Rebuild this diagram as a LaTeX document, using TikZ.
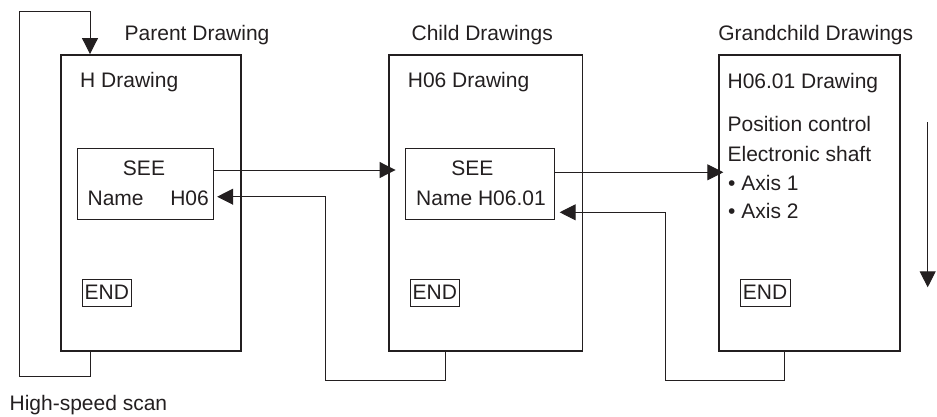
\documentclass[tikz,border=0pt]{standalone}
\usepackage{fontspec}
\setmainfont{Liberation Sans}
\usetikzlibrary{arrows.meta,calc}
\definecolor{ink}{HTML}{231F20}
\tikzset{
  drawbox/.style={draw=ink,line width=1.9pt,rectangle,inner sep=0pt},
  seebox/.style={draw=ink,line width=0.9pt,rectangle,inner sep=0pt},
  endbox/.style={draw=ink,line width=0.9pt,rectangle,inner sep=0pt,minimum width=49.7pt,minimum height=26.7pt,text=ink},
  lbl/.style={inner sep=0pt,text=ink,anchor=base west},
  conn/.style={draw=ink,line width=1pt},
  arr/.style={conn,-{Triangle[length=16pt,width=16pt]}},
}
\begin{document}
\begin{tikzpicture}[x=1pt,y=-1pt,font=\fontsize{21pt}{25pt}\selectfont]
\useasboundingbox (0,0) rectangle (937,416);
% drawing boxes
\node[drawbox,minimum width=180.3pt,minimum height=295.7pt] (boxH) at (150.85,202.85) {};
\node[drawbox,minimum width=193.5pt,minimum height=295.7pt] (boxC) at (485.75,202.85) {};
\node[drawbox,minimum width=181pt,minimum height=295.7pt] (boxG) at (809.8,202.85) {};
% SEE boxes
\node[seebox,minimum width=136pt,minimum height=70.7pt] (seeH) at (145.7,183.65) {};
\node[seebox,minimum width=149pt,minimum height=70.7pt] (seeC) at (480.2,183.65) {};
% END boxes
\node[endbox] (endH) at (106.85,292.65) {END};
\node[endbox] (endC) at (434.85,292.65) {END};
\node[endbox] (endG) at (765.15,292.65) {END};
% headings
\node[lbl] (tP) at (124.5,40.5) {Parent Drawing};
\node[lbl,anchor=base] (tC) at (482.2,40.5) {Child Drawings};
\node[lbl,anchor=base] (tG) at (815.7,40.5) {Grandchild Drawings};
% box texts
\node[lbl] (hH) at (80,87.3) {H Drawing};
\node[lbl] (hC) at (407.7,87) {H06 Drawing};
\node[lbl] (hG) at (727.4,88) {H06.01 Drawing};
\node[lbl,anchor=base] (sH) at (144,175) {SEE};
\node[lbl] (nH) at (87.4,205) {Name};
\node[lbl,anchor=base east] (vH) at (209,205) {H06};
\node[lbl,anchor=base] (sC) at (472.3,175) {SEE};
\node[lbl] (nC) at (416,205) {Name H06.01};
\node[lbl] (g1) at (727.4,131.7) {Position control};
\node[lbl] (g2) at (727.4,161) {Electronic shaft};
\node[lbl] (g3) at (728,190) {• Axis 1};
\node[lbl] (g4) at (728,218.3) {• Axis 2};
\node[lbl] (hs) at (9.4,410) {High-speed scan};
% scan loop
\draw[arr] (boxH.south -| 90,0) -- (90,376.7) -- (19,376.7) -- (19,11.7) -- (90,11.7) -- (boxH.north -| 90,0);
% calls
\draw[arr,shorten >=9.7pt] (seeH.east |- 0,170) -- (seeC.west |- 0,170);
\draw[arr] (seeC.east |- 0,172.3) -- ($(boxG.west |- 0,172.3)+(5,0)$);
% returns
\draw[arr,shorten >=3pt] (boxC.south -| 445.7,0) -- (445.7,380) -- (325.7,380) -- (325.7,196.7) -- (seeH.east |- 0,196.7);
\draw[arr,shorten >=4.5pt] (boxG.south -| 784,0) -- (784,380) -- (665,380) -- (665,212.3) -- (seeC.east |- 0,212.3);
% execution direction
\coordinate (d1) at (927.7,122.3);
\coordinate (d2) at (927.7,287.3);
\draw[arr] (d1) -- (d2);
\end{tikzpicture}
\end{document}
